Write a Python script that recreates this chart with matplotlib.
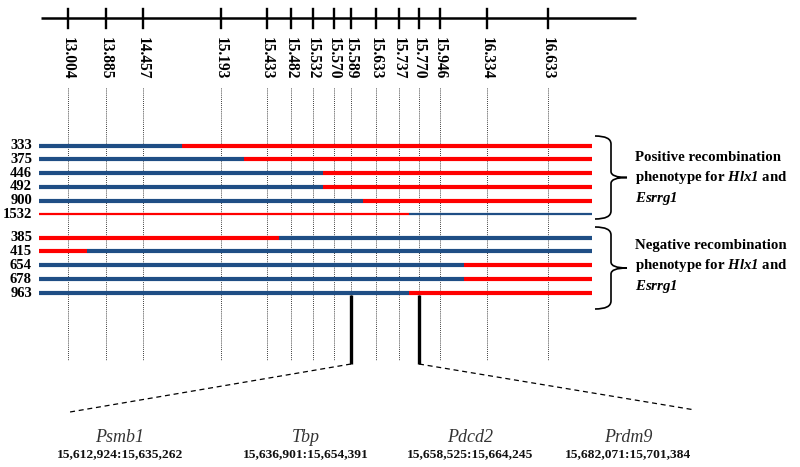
import matplotlib
matplotlib.use('Agg')
import matplotlib.pyplot as plt
from matplotlib.path import Path
from matplotlib.patches import PathPatch

plt.rcParams['font.family'] = ['Liberation Serif', 'DejaVu Serif']
plt.rcParams['mathtext.fontset'] = 'custom'
# math parts are only gene names: bold italic, digits included
plt.rcParams['mathtext.it'] = 'Liberation Serif:italic:bold'
plt.rcParams['mathtext.rm'] = 'Liberation Serif:italic:bold'

# markers (Mb)
markers = ['13.004', '13.885', '14.457', '15.193', '15.433', '15.482', '15.532',
           '15.570', '15.589', '15.633', '15.737', '15.770', '15.946', '16.334', '16.633']

# animals: first allele and the marker interval where the switch happens
animals_pos = ['333', '375', '446', '492', '900', '1532']
first_pos = ['B', 'B', 'B', 'B', 'B', 'R']
switch_pos = [2, 3, 6, 6, 8, 10]

animals_neg = ['385', '415', '654', '678', '963']
first_neg = ['R', 'R', 'B', 'B', 'B']
switch_neg = [4, 0, 12, 12, 10]

# candidate genes in the critical interval
genes = ['Psmb1', 'Tbp', 'Pdcd2', 'Prdm9']
gene_coords = ['15,612,924:15,635,262', '15,636,901:15,654,391',
               '15,658,525:15,664,245', '15,682,071:15,701,384']
interval = (8, 11)  # markers 15.589 .. 15.770

group_text = ['Positive recombination\nphenotype for $Hlx1$ and\n$Esrrg1$',
              'Negative recombination\nphenotype for $Hlx1$ and\n$Esrrg1$']

# ---- layout (schematic pixel positions) ----
marker_x = [67.5, 106, 143, 221, 266.5, 291, 313, 333.5, 351, 375.5, 398.5, 419, 440, 487, 548]
colors = {'B': '#1f4e85', 'R': '#ff0000'}
bar_x0, bar_x1 = 39, 592

fig = plt.figure(figsize=(8, 4.67), dpi=100)
ax = fig.add_axes([0, 0, 1, 1])
ax.set_xlim(0, 800)
ax.set_ylim(467, 0)
ax.axis('off')

# top map axis
ax.plot([41, 636], [18, 18], color='black', lw=1.8, solid_capstyle='butt')
for x, lab in zip(marker_x, markers):
    ax.plot([x, x], [9, 28], color='black', lw=1.7)
    ax.text(x, 37, lab, rotation=270, ha='center', va='top',
            fontsize=11.2, fontweight='bold')
    ax.plot([x, x], [88, 360], color='black', lw=0.6, ls=(0, (1, 1.5)))

def draw_rows(names, first, switch, y0, dy):
    for i, (n, f, s) in enumerate(zip(names, first, switch)):
        y = y0 + dy * i
        other = 'R' if f == 'B' else 'B'
        bx = (marker_x[s] + marker_x[s + 1]) / 2
        lw = 1.6 if n == '1532' else 3.0
        ax.plot([bar_x0, bx], [y, y], color=colors[f], lw=lw, solid_capstyle='butt')
        ax.plot([bx, bar_x1], [y, y], color=colors[other], lw=lw, solid_capstyle='butt')
        ax.text(32, y, n, ha='right', va='center', fontsize=10.5, fontweight='bold')

draw_rows(animals_pos, first_pos, switch_pos, 145.7, 13.7)
draw_rows(animals_neg, first_neg, switch_neg, 237.5, 13.9)

def brace(y_top, y_bot):
    xm, xe, xt = 611, 595, 627
    ym = (y_top + y_bot) / 2
    verts = [(xe, y_top), (xm, y_top), (xm, y_top + 8),
             (xm, ym - 6), (xm, ym), (xt, ym),
             (xm, ym), (xm, ym + 6),
             (xm, y_bot - 8), (xm, y_bot), (xe, y_bot)]
    codes = [Path.MOVETO, Path.CURVE3, Path.CURVE3,
             Path.LINETO, Path.CURVE3, Path.CURVE3,
             Path.CURVE3, Path.CURVE3,
             Path.LINETO, Path.CURVE3, Path.CURVE3]
    ax.add_patch(PathPatch(Path(verts, codes), fill=False, lw=1.2, color='black'))

brace(136, 219)
brace(227, 309)
ax.text(635, 179, group_text[0], ha='left', va='center', fontsize=10.7,
        fontweight='bold', linespacing=1.4)
ax.text(635, 267, group_text[1], ha='left', va='center', fontsize=10.7,
        fontweight='bold', linespacing=1.4)

# critical interval zoom
xa, xb = marker_x[interval[0]], marker_x[interval[1]]
ax.plot([xa, xa], [295, 364], color='black', lw=2.4, solid_capstyle='butt')
ax.plot([xb, xb], [295, 364], color='black', lw=2.4, solid_capstyle='butt')
ax.plot([xa, 70], [364, 412], color='black', lw=0.9, ls=(0, (4, 3)))
ax.plot([xb, 695], [364, 410], color='black', lw=0.9, ls=(0, (4, 3)))

gene_cx = [120, 306, 470, 628]
for cx, g, c in zip(gene_cx, genes, gene_coords):
    ax.text(cx, 437, g, ha='center', va='center', fontsize=13, style='italic', color='#333333')
    ax.text(cx, 454, c, ha='center', va='center', fontsize=9.7, fontweight='bold', color='#111111')

fig.savefig('out.png', dpi=100)
